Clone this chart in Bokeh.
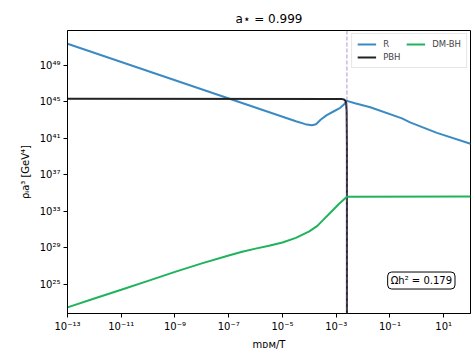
import numpy as np
from bokeh.plotting import figure
from bokeh.models import (Range1d, FixedTicker, CustomJSTickFormatter, Span,
                          Label, Legend, LegendItem)
from bokeh.embed import file_html
from bokeh.resources import INLINE

# ---- data (log10 values) ----
r_logx = [-13.0, -4.5, -4.15, -3.9, -3.75, -3.58, -3.35, -3.1, -2.85, -2.7, -2.6,
          -2.3, -1.73, -0.55, -0.25, 0.75, 2.0]
r_logy = [51.38, 42.88, 42.56, 42.45, 42.55, 43.05, 43.55, 43.95, 44.35, 44.75, 45.12,
          44.85, 44.42, 43.2, 42.75, 41.6, 40.41]

pbh_logx = [-13.0, -2.8, -2.72, -2.66, -2.63, -2.61, -2.6, -2.6]
pbh_logy = [45.34, 45.33, 45.28, 45.15, 44.9, 44.0, 40.0, 10.0]

dm_logx = [-13.0, -12.0, -11.0, -10.0, -9.0, -8.0, -7.0, -6.5, -6.0, -5.5, -5.0,
           -4.5, -4.0, -3.7, -3.5, -3.2, -2.9, -2.6, 2.0]
dm_logy = [22.45, 23.42, 24.38, 25.36, 26.35, 27.28, 28.15, 28.55, 28.9, 29.22, 29.58,
           30.08, 30.8, 31.4, 32.0, 32.9, 33.8, 34.6, 34.62]

evap_x = 10 ** -2.6
omega_text = "Ωh² = 0.179"
title_text = "a⋆ = 0.999"

x_ticks = [1e-13, 1e-11, 1e-9, 1e-7, 1e-5, 1e-3, 1e-1, 1e1]
y_ticks = [1e25, 1e29, 1e33, 1e37, 1e41, 1e45, 1e49]

FONT = "DejaVu Sans"

p = figure(width=475, height=359, output_backend="svg", toolbar_location=None,
           x_axis_type="log", y_axis_type="log",
           x_range=Range1d(1e-13, 1e2), y_range=Range1d(10 ** 21.78, 10 ** 52.84),
           frame_width=403, frame_height=283,
           min_border_left=67, min_border_right=5, min_border_top=30, min_border_bottom=46)

p.title.text = title_text
p.title.align = "center"
p.title.text_font = FONT
p.title.text_font_size = "12px"
p.title.text_font_style = "normal"
p.title.text_color = "#000000"

p.background_fill_color = "white"
p.border_fill_color = "white"
p.outline_line_color = "#000000"
p.outline_line_width = 1
p.outline_line_alpha = 1
p.xgrid.visible = False
p.ygrid.visible = False

sup_js = """
const sup = {'-':'\u207b','0':'\u2070','1':'\u00b9','2':'\u00b2','3':'\u00b3','4':'\u2074',
             '5':'\u2075','6':'\u2076','7':'\u2077','8':'\u2078','9':'\u2079'};
const e = Math.round(Math.log10(tick));
return '10' + String(e).split('').map(c => sup[c]).join('');
"""
for ax, ticks in ((p.xaxis[0], x_ticks), (p.yaxis[0], y_ticks)):
    ax.ticker = FixedTicker(ticks=ticks, minor_ticks=[])
    ax.formatter = CustomJSTickFormatter(code=sup_js)
    ax.major_label_text_font = FONT
    ax.major_label_text_font_size = "10px"
    ax.major_label_text_color = "#000000"
    ax.major_tick_in = 0
    ax.major_tick_out = 4
    ax.minor_tick_in = 0
    ax.minor_tick_out = 0
    ax.axis_line_color = "#000000"
    ax.major_tick_line_color = "#000000"
    ax.axis_label_text_font = FONT
    ax.axis_label_text_font_size = "10px"
    ax.axis_label_text_font_style = "normal"
    ax.axis_label_text_color = "#000000"

p.xaxis.axis_label = "mᴅᴍ/T"
p.yaxis.axis_label = "ρᵢa³ [GeV⁴]"
p.xaxis.major_label_standoff = 3
p.yaxis.major_label_standoff = 3
p.xaxis.axis_label_standoff = 4
p.yaxis.axis_label_standoff = 6

r_x = 10 ** np.array(r_logx)
r_y = 10 ** np.array(r_logy)
pbh_x = 10 ** np.array(pbh_logx)
pbh_y = 10 ** np.array(pbh_logy)
dm_x = 10 ** np.array(dm_logx)
dm_y = 10 ** np.array(dm_logy)

span = Span(location=evap_x, dimension="height", line_color="#9467bd",
            line_alpha=0.7, line_width=1, line_dash="4 2")
p.add_layout(span)

lr = p.line(r_x, r_y, line_color="#3b8bc2", line_width=2)
lp = p.line(pbh_x, pbh_y, line_color="#222222", line_width=2)
ld = p.line(dm_x, dm_y, line_color="#1fb35b", line_width=2)

legend = Legend(items=[LegendItem(label="R", renderers=[lr]),
                       LegendItem(label="PBH", renderers=[lp]),
                       LegendItem(label="DM-BH", renderers=[ld])],
                location="top_right", ncols=2)
legend.label_text_font = FONT
legend.label_text_font_size = "8.5px"
legend.label_height = 10
legend.glyph_height = 10
legend.glyph_width = 19
legend.label_standoff = 7
legend.spacing = 3
legend.padding = 5
legend.margin = 3
legend.border_line_color = "#cccccc"
legend.border_line_width = 1
legend.background_fill_alpha = 0.8
p.add_layout(legend)

omega = Label(x=10 ** 0.17, y=10 ** 25.4, text=omega_text, text_align="center",
              text_baseline="middle", text_font=FONT, text_font_size="10px",
              text_color="#000000", border_line_color="#000000", border_line_width=1,
              background_fill_color="white", padding=3, border_radius=4)
p.add_layout(omega)

open("out.html", "w").write(file_html(p, INLINE))
